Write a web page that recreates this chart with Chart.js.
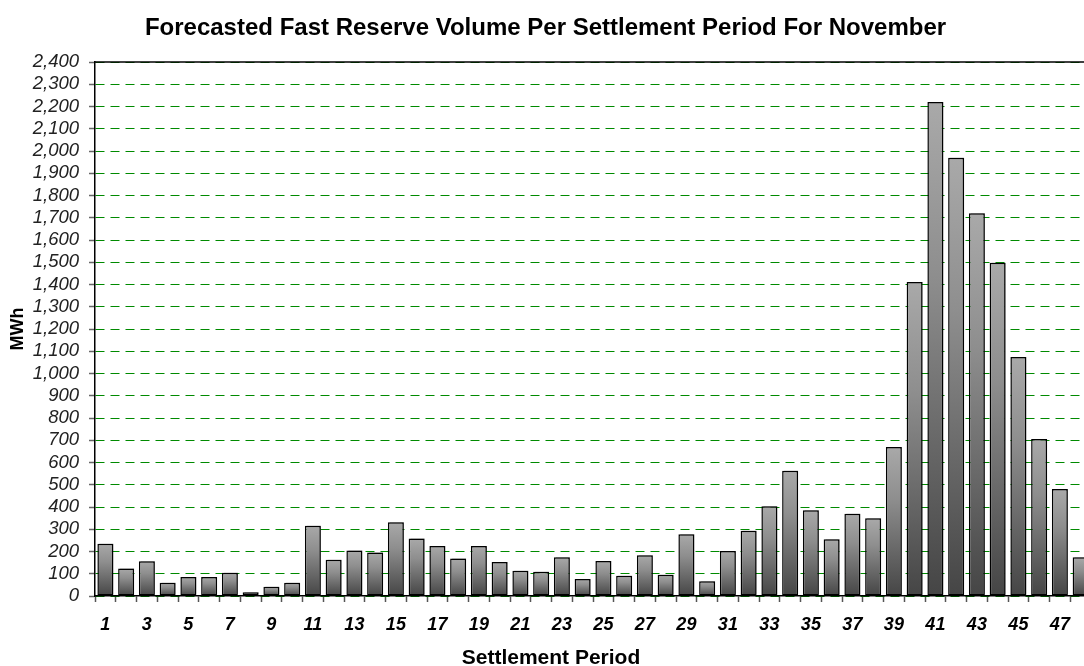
<!DOCTYPE html>
<html>
<head>
<meta charset="utf-8">
<script src="https://cdn.jsdelivr.net/npm/chart.js@4/dist/chart.umd.min.js"></script>
<style>
  html, body { margin: 0; padding: 0; background: #fff; overflow: hidden; }
  #wrap { width: 1102px; height: 666px; }
</style>
</head>
<body>
<div id="wrap"><canvas id="c" width="1102" height="666"></canvas></div>
<script>
const chartTitle = 'Forecasted Fast Reserve Volume Per Settlement Period For November';
const xAxisTitle = 'Settlement Period';
const yAxisTitle = 'MWh';
const periods = ['1','2','3','4','5','6','7','8','9','10','11','12','13','14','15','16','17','18','19','20','21','22','23','24','25','26','27','28','29','30','31','32','33','34','35','36','37','38','39','40','41','42','43','44','45','46','47','48'];
const volumes = [235,124,156,60,85,85,105,17,42,60,316,163,205,195,331,258,225,168,225,153,114,109,174,76,157,91,183,96,277,66,202,293,403,563,385,255,370,349,670,1411,2220,1970,1720,1498,1074,706,481,174];
const yMin = 0, yMax = 2400, yStep = 100;

const FONT = 'Arial, "Liberation Sans", Helvetica, sans-serif';

const barGradient = (c) => {
  const ch = c.chart;
  const ys = ch.scales && ch.scales.y;
  if (!ys || c.type !== 'data' || ys.top === undefined) return '#888888';
  const top = ys.getPixelForValue(c.raw);
  const bot = ys.getPixelForValue(0);
  if (!isFinite(top) || !isFinite(bot) || top === bot) return '#888888';
  const g = ch.ctx.createLinearGradient(0, top, 0, bot);
  g.addColorStop(0, '#a9a9a9');
  g.addColorStop(0.35, '#8e8e8e');
  g.addColorStop(1, '#454545');
  return g;
};

const decor = {
  id: 'decor',
  beforeDatasetsDraw(chart) {
    const ctx = chart.ctx;
    ctx.save();
    ctx.shadowColor = 'rgba(0,0,0,0.28)';
    ctx.shadowOffsetX = 2;
    ctx.shadowOffsetY = -1;
    ctx.shadowBlur = 0;
  },
  afterDatasetsDraw(chart) {
    const ctx = chart.ctx;
    ctx.restore();
    const a = chart.chartArea;
    ctx.save();
    ctx.strokeStyle = '#000';
    ctx.lineWidth = 1.5;
    ctx.beginPath();
    ctx.moveTo(a.left, a.top);
    ctx.lineTo(a.right, a.top);
    ctx.stroke();
    ctx.restore();
  },
  afterDraw(chart) {
    const ctx = chart.ctx;
    ctx.save();
    ctx.fillStyle = '#000';
    ctx.font = 'bold 21px ' + FONT;
    ctx.textAlign = 'center';
    ctx.textBaseline = 'middle';
    ctx.fillText(xAxisTitle, chart.width / 2, 658);
    ctx.restore();
  }
};

new Chart(document.getElementById('c'), {
  type: 'bar',
  data: {
    labels: periods,
    datasets: [{
      data: volumes,
      backgroundColor: barGradient,
      borderColor: '#000',
      borderWidth: 1.5,
      borderSkipped: false,
      barPercentage: 0.77,
      categoryPercentage: 1.0
    }]
  },
  options: {
    responsive: false,
    animation: false,
    devicePixelRatio: 1,
    layout: { padding: { left: 0, right: 11, top: 0, bottom: 0 } },
    plugins: {
      legend: { display: false },
      tooltip: { enabled: false },
      title: {
        display: true,
        text: chartTitle,
        color: '#000',
        font: { family: FONT, size: 24, weight: 'bold', lineHeight: 1.2 },
        padding: { top: 13.5, bottom: 19.7 }
      }
    },
    scales: {
      x: {
        type: 'category',
        afterFit(s) { s.height = 70; },
        grid: {
          display: true,
          drawOnChartArea: false,
          drawTicks: true,
          offset: true,
          tickLength: 6,
          tickColor: '#555',
          tickWidth: 1.5
        },
        border: { display: true, color: '#000', width: 1.5 },
        ticks: {
          autoSkip: false,
          maxRotation: 0,
          minRotation: 0,
          padding: 12,
          color: '#000',
          font: { family: FONT, size: 18, weight: 'bold', style: 'italic' },
          callback: (v, i) => (i % 2 === 0 ? periods[i] : '')
        }
      },
      y: {
        min: yMin,
        max: yMax,
        afterFit(s) { s.width = 95; },
        grid: {
          color: '#008a00',
          lineWidth: 1,
          drawTicks: true,
          tickLength: 6,
          tickColor: '#666',
          tickWidth: 1.5,
          tickBorderDash: []
        },
        border: { display: true, color: '#000', width: 1.5, dash: [9, 6] },
        ticks: {
          stepSize: yStep,
          autoSkip: false,
          padding: 10,
          color: '#222',
          font: { family: FONT, size: 18.5, style: 'italic' },
          callback: (v) => Number(v).toLocaleString('en-US')
        },
        title: {
          display: true,
          text: yAxisTitle,
          color: '#000',
          font: { family: FONT, size: 18, weight: 'bold', lineHeight: 1.2 },
          padding: { top: 7, bottom: 0 }
        }
      }
    }
  },
  plugins: [decor]
});
</script>
</body>
</html>
